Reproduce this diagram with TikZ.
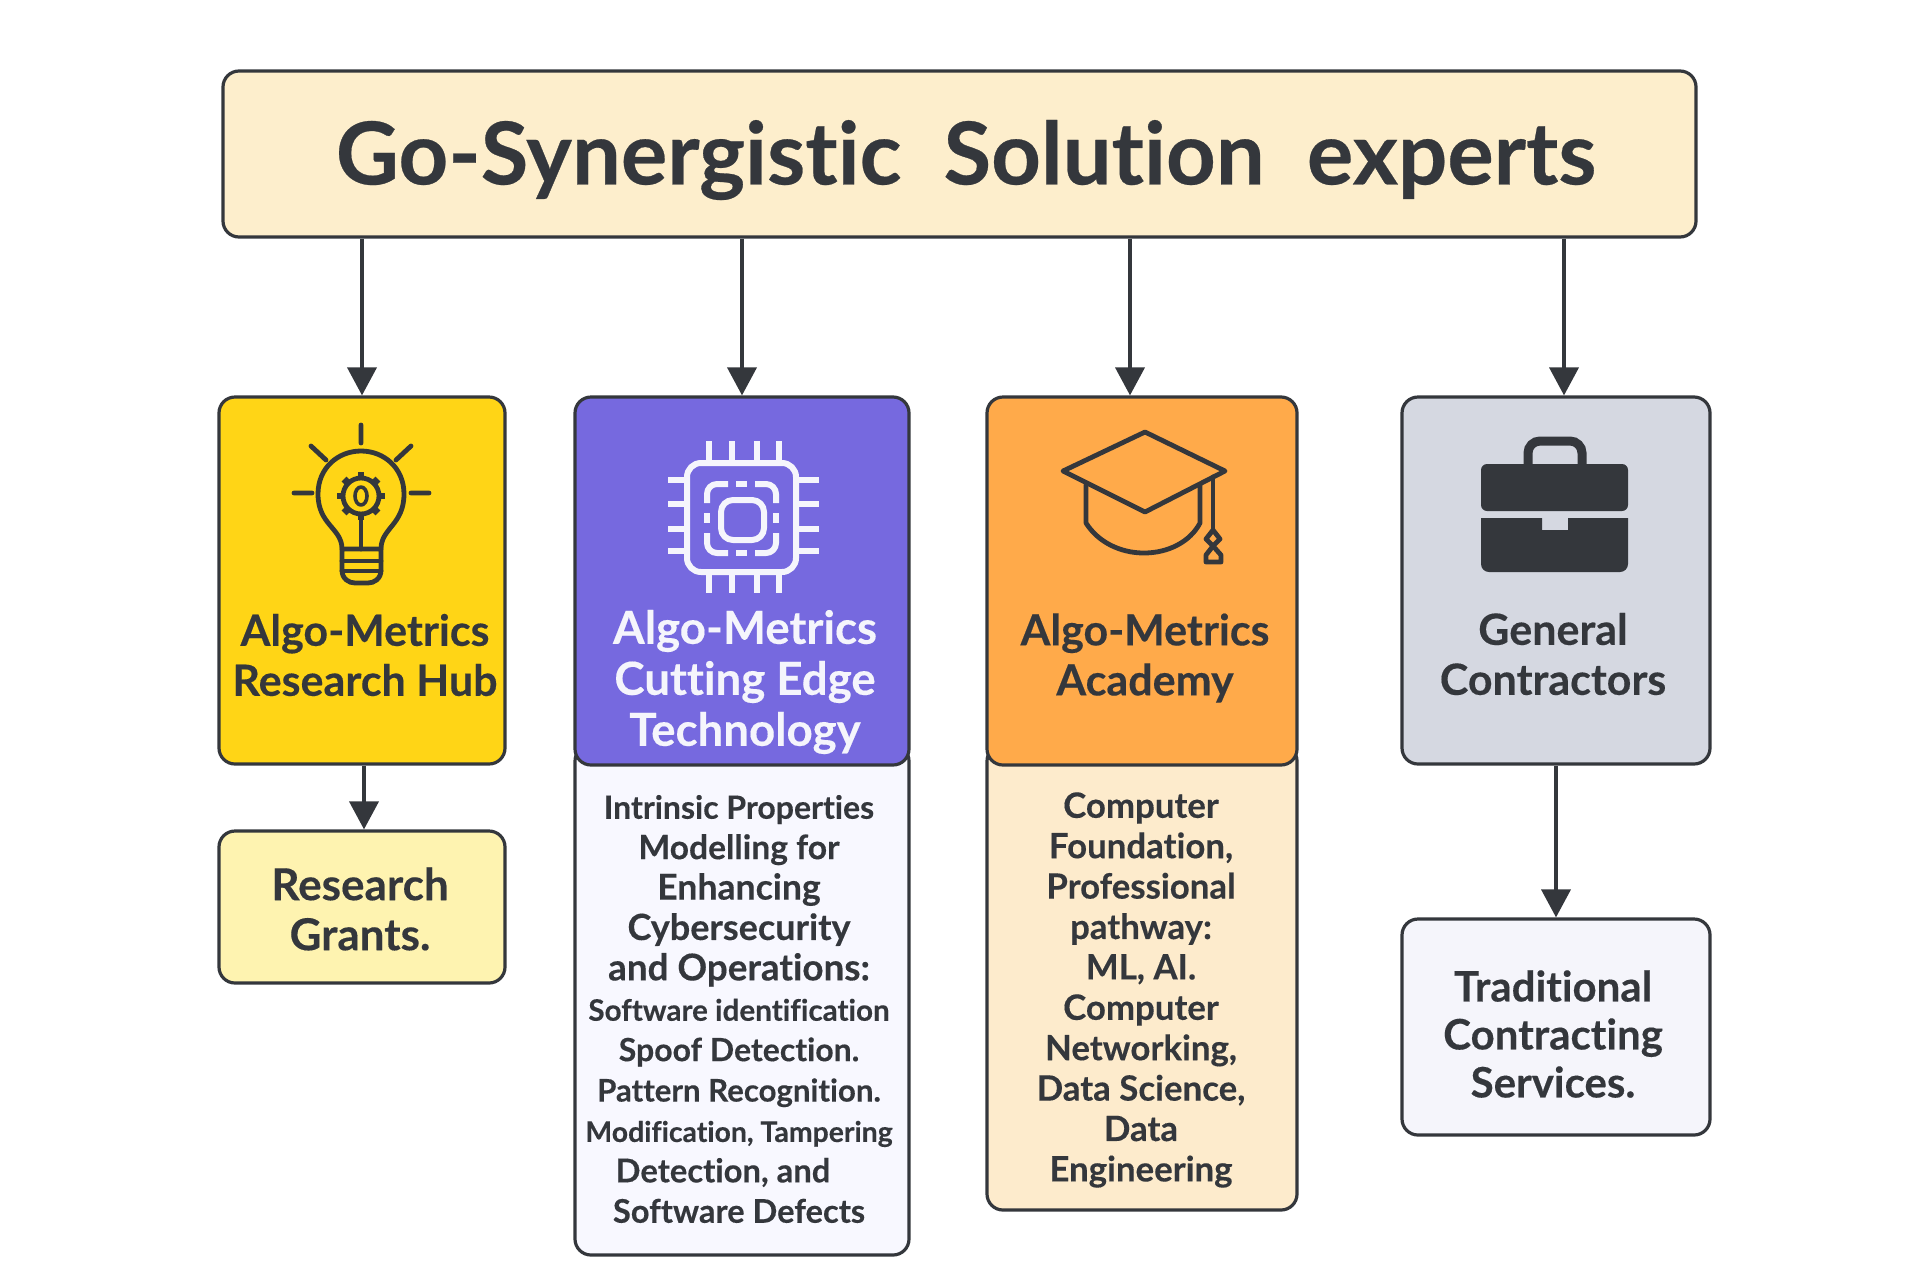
\documentclass[tikz,border=0pt]{standalone}
\usepackage{fontspec}
\setmainfont{Lato}[Ligatures=NoCommon,BoldFeatures={FakeBold=0.3}]
\usepackage{xcolor}
\usetikzlibrary{arrows.meta,positioning,calc}
\definecolor{InkColor}{RGB}{52,55,60}
\definecolor{TitleColor}{RGB}{253,238,204}
\definecolor{YellowColor}{RGB}{255,213,22}
\definecolor{PurpleColor}{RGB}{118,105,223}
\definecolor{OrangeColor}{RGB}{255,170,74}
\definecolor{GreyColor}{RGB}{213,216,225}
\definecolor{GrantColor}{RGB}{254,243,176}
\definecolor{TechListColor}{RGB}{248,248,255}
\definecolor{AcademyListColor}{RGB}{253,235,204}
\definecolor{ServiceColor}{RGB}{245,245,251}
\definecolor{PaleTextColor}{RGB}{245,245,252}
\newcommand{\sized}[2]{{\fontsize{#1}{20.2}\selectfont #2}}
\begin{document}
\begin{tikzpicture}[x=0.5pt, y=-0.5pt, >={Triangle[length=14pt,width=14.5pt]},
    card/.style={draw=InkColor, line width=1.6pt, rounded corners=8pt, inner sep=0pt},
    head/.style={font=\fontsize{21.5}{25}\selectfont\bfseries, text=InkColor, align=center},
    body/.style={font=\fontsize{17.4}{20.2}\selectfont\bfseries, text=InkColor, align=center},
    link/.style={->, draw=InkColor, line width=1.9pt},
    iconline/.style={draw=InkColor, line width=2.4pt, line cap=round, line join=round},
    chipline/.style={draw=PaleTextColor, line width=3pt, line join=round}]
  \useasboundingbox (0,0) rectangle (1920,1280);
  % boxes, the lists go first so that the coloured heads lie over them
  \node[card, fill=TitleColor, minimum width=736.5pt, minimum height=83pt] (title) at (959.5,154) {};
  \node[card, fill=TechListColor, minimum width=167pt, minimum height=255pt] (techlist) at (742,1000) {};
  \node[card, fill=AcademyListColor, minimum width=155pt, minimum height=232.5pt] (academylist) at (1142,977.5) {};
  \node[card, fill=YellowColor, minimum width=143pt, minimum height=183.5pt] (hub) at (362,580.5) {};
  \node[card, fill=PurpleColor, minimum width=167pt, minimum height=184pt] (tech) at (742,581) {};
  \node[card, fill=OrangeColor, minimum width=155pt, minimum height=184pt] (academy) at (1142,581) {};
  \node[card, fill=GreyColor, minimum width=154pt, minimum height=183.5pt] (general) at (1556,580.5) {};
  \node[card, fill=GrantColor, minimum width=143pt, minimum height=76pt] (grants) at (362,907) {};
  \node[card, fill=ServiceColor, minimum width=154pt, minimum height=108pt] (services) at (1556,1027) {};
  % texts
  \node[font=\fontsize{43.4}{50}\selectfont\bfseries, text=InkColor] (titletext) at (966,160) {Go-Synergistic\ \ Solution\ \ experts};
  \node[head] (hubtext) at (365,655) {Algo-Metrics\\Research Hub};
  \node[head, font=\fontsize{22.8}{25.5}\selectfont\bfseries, text=PaleTextColor] (techtext) at (745,682) {Algo-Metrics\\Cutting Edge\\Technology};
  \node[head] (academytext) at (1145,658) {Algo-Metrics\\Academy};
  \node[head] (generaltext) at (1553,654) {General\\Contractors};
  \node[head, font=\fontsize{22}{25}\selectfont\bfseries] (grantstext) at (360,909) {Research\\Grants.};
  \node[head, font=\fontsize{21}{24}\selectfont\bfseries] (servicestext) at (1553,1034) {Traditional\\Contracting\\Services.};
  \node[body] (techbody) at (739,1009) {\sized{16}{Intrinsic Properties}\\\sized{16.8}{Modelling for}\\\sized{17.8}{Enhancing}\\\sized{18}{Cybersecurity}\\\sized{18.4}{and Operations:}\\\sized{14.8}{Software identification}\\\sized{16}{Spoof Detection.}\\\sized{15.6}{Pattern Recognition.}\\\sized{14.2}{Modification, Tampering}\\\sized{16.4}{Detection, and}\hspace*{16pt}\null\\\sized{16.3}{Software Defects}};
  \node[body] (academybody) at (1141,990) {Computer\\Foundation,\\Professional\\pathway:\\ML, AI.\\Computer\\Networking,\\Data Science,\\Data\\Engineering};
  % connectors
  \draw[link] (title.south -| hub.north) -- (hub.north);
  \draw[link] (title.south -| tech.north) -- (tech.north);
  \draw[link] ([xshift=-6pt]title.south -| academy.north) -- ([xshift=-6pt]academy.north);
  \draw[link] ([xshift=4pt]title.south -| general.north) -- ([xshift=4pt]general.north);
  \draw[link] ([xshift=1pt]hub.south) -- ([xshift=1pt]grants.north);
  \draw[link] (general.south) -- (services.north);
  % bulb
  \draw[iconline] (342,549) .. controls (342,528) and (318,525) .. (318,494) .. controls (318,468) and (338,451) .. (361,451) .. controls (384,451) and (404,468) .. (404,494) .. controls (404,525) and (381,528) .. (381,549);
  \draw[iconline] (342,549) -- (342,570) .. controls (342,579) and (349,583) .. (355,583) -- (368,583) .. controls (374,583) and (381,579) .. (381,570) -- (381,549) -- cycle;
  \draw[iconline] (342,561) -- (381,561) (342,571) -- (381,571);
  \draw[iconline] (361,520) -- (361,549);
  \draw[iconline] (361,425) -- (361,443) (311,446) -- (326,460) (411,446) -- (396,460) (294,493) -- (312,493) (411,493) -- (429,493);
  \draw[iconline] (361,496) circle[radius=9pt];
  \draw[iconline, line width=1.8pt] (361,496) circle[x radius=3pt, y radius=4.5pt];
  \foreach \a in {0,45,...,315}
    \draw[InkColor, line width=3.4pt] (361,496) ++(\a:9pt) -- ++(\a:3pt);
  % chip
  \draw[chipline, rounded corners=7pt] (687,463) rectangle (796,572);
  \draw[chipline, rounded corners=6pt] (721,500) rectangle (764,540);
  \foreach \x in {709,732,757,779} {
    \draw[chipline] (\x,441) -- (\x,463);
    \draw[chipline] (\x,572) -- (\x,593);
  }
  \foreach \y in {480,504,529,551} {
    \draw[chipline] (668,\y) -- (687,\y);
    \draw[chipline] (796,\y) -- (819,\y);
  }
  \draw[chipline, rounded corners=5pt] (707,503) -- (707,484) -- (728,484) (755,484) -- (776,484) -- (776,503) (776,533) -- (776,553) -- (755,553) (728,553) -- (707,553) -- (707,533);
  \draw[chipline] (736,484) -- (747,484) (736,553) -- (747,553) (707,513) -- (707,523) (776,513) -- (776,523);
  % cap
  \draw[iconline] (1086,485) -- (1086,523) .. controls (1098,542) and (1120,553) .. (1144,553) .. controls (1168,553) and (1190,542) .. (1200,523) -- (1200,485);
  \draw[iconline] (1063,471) -- (1145,432) -- (1225,471) -- (1145,512) -- cycle;
  \draw[iconline] (1213,477) -- (1213,530);
  \draw[iconline] (1213,530) -- (1206,539) -- (1213,546) -- (1220,539) -- cycle (1213,546) -- (1206,555) -- (1206,562) -- (1221,562) -- (1221,555) -- cycle;
  % briefcase
  \fill[InkColor, rounded corners=3pt] (1481,464) rectangle (1628,511);
  \fill[InkColor] (1542,518) -- (1542,530) -- (1568,530) -- (1568,518) -- (1628,518) [rounded corners=4pt] -- (1628,572) -- (1481,572) [sharp corners] -- (1481,518) -- cycle;
  \draw[InkColor, line width=4.5pt, rounded corners=6pt] (1528,464) -- (1528,441) -- (1582,441) -- (1582,464);
\end{tikzpicture}
\end{document}
